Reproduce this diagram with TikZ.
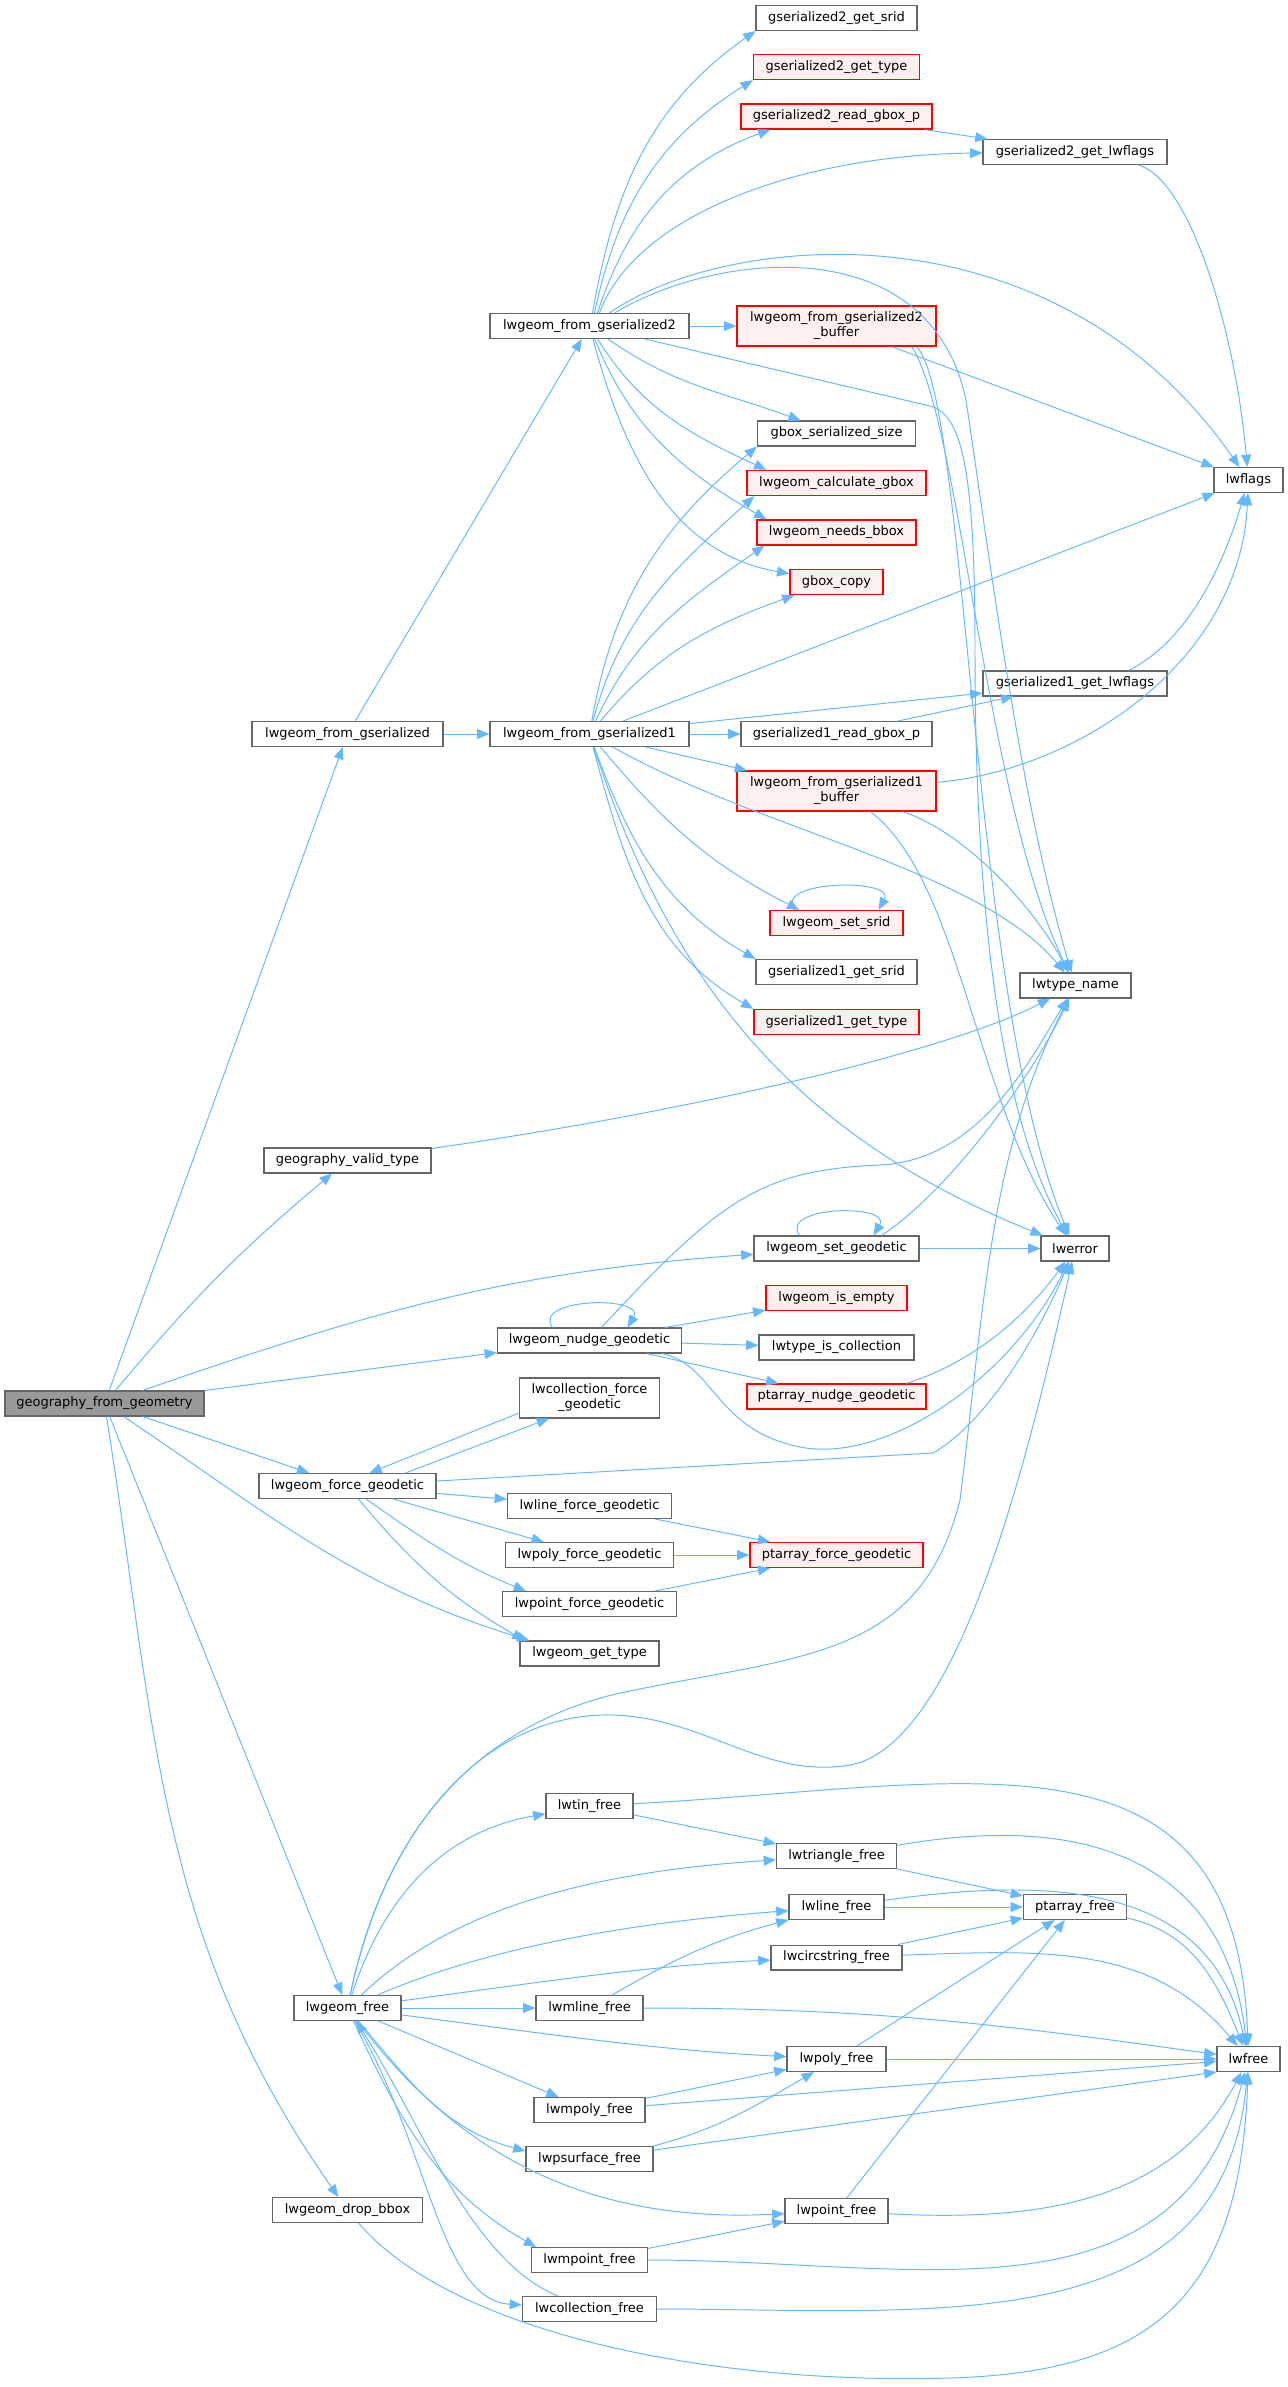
\documentclass[tikz,border=0pt]{standalone}
\usepackage{fontspec}
\newfontfamily\graphfont{DejaVu Sans}
\usetikzlibrary{arrows.meta,calc}
\definecolor{callBlue}{HTML}{63B8FF}
\definecolor{boxGray}{HTML}{666666}
\definecolor{rootGray}{HTML}{999999}
\definecolor{missRed}{HTML}{FF0000}
\definecolor{missFill}{HTML}{FFF0F0}

\begin{document}
\begin{tikzpicture}[x=0.02cm, y=-0.02cm,
      font=\graphfont\fontsize{7.4}{8.5}\selectfont,
      fn/.style={draw=boxGray, fill=white, line width=0.6pt, minimum height=0.5cm, inner sep=0pt},
      fnred/.style={fn, draw=missRed, fill=missFill, line width=0.75pt},
      fnroot/.style={fn, fill=rootGray},
      twoline/.style={minimum height=0.8cm, align=center},
      wd/.style={minimum width=#1*0.02cm},
      call/.style={draw=callBlue, line width=0.55pt, -{Triangle[length=7pt, width=5.6pt]}}]
    \path[use as bounding box, fill=white] (0,0) rectangle (1288,2387);
    % ---- caller and first level
    \node[fnroot, wd=199] (ggeo) at (104.5,1403.5) {geography\_from\_geometry};
    \node[fn, wd=191] (lfg) at (347.5,734) {lwgeom\_from\_gserialized};
    \node[fn, wd=167] (gvt) at (347.5,1160.5) {geography\_valid\_type};
    \node[fn, wd=177] (lfgeod) at (347.5,1486) {lwgeom\_force\_geodetic};
    \node[fn, wd=107] (lfree) at (347.5,2008) {lwgeom\_free};
    \node[fn, wd=150] (ldrop) at (347.5,2210) {lwgeom\_drop\_bbox};
    % ---- second level
    \node[fn, wd=199] (lfg2) at (589.5,326) {lwgeom\_from\_gserialized2};
    \node[fn, wd=199] (lfg1) at (589.5,734) {lwgeom\_from\_gserialized1};
    \node[fn, wd=184] (nudge) at (589.5,1340.5) {lwgeom\_nudge\_geodetic};
    \node[fn, twoline, wd=140] (collfg) at (589.5,1398) {lwcollection\_force\\\_geodetic};
    \node[fn, wd=164] (linefg) at (589.5,1506) {lwline\_force\_geodetic};
    \node[fn, wd=168] (polyfg) at (589.5,1555) {lwpoly\_force\_geodetic};
    \node[fn, wd=174] (pointfg) at (589.5,1604) {lwpoint\_force\_geodetic};
    \node[fn, wd=139] (gettype) at (589.5,1653.5) {lwgeom\_get\_type};
    \node[fn, wd=87] (tinfree) at (589.5,1806) {lwtin\_free};
    \node[fn, wd=107] (mlinefree) at (589.5,2008) {lwmline\_free};
    \node[fn, wd=111] (mpolyfree) at (589.5,2110) {lwmpoly\_free};
    \node[fn, wd=127] (psurffree) at (589.5,2159) {lwpsurface\_free};
    \node[fn, wd=116] (mpointfree) at (589.5,2260) {lwmpoint\_free};
    \node[fn, wd=134] (collfree) at (589.5,2309) {lwcollection\_free};
    % ---- third level
    \node[fn, wd=161] (g2srid) at (836.5,18) {gserialized2\_get\_srid};
    \node[fnred, wd=166] (g2type) at (836.5,67) {gserialized2\_get\_type};
    \node[fnred, wd=191] (g2rgbox) at (836.5,116.5) {gserialized2\_read\_gbox\_p};
    \node[fnred, twoline, wd=199] (lfg2buf) at (836.5,326) {lwgeom\_from\_gserialized2\\\_buffer};
    \node[fn, wd=158] (gbsize) at (836.5,433.5) {gbox\_serialized\_size};
    \node[fnred, wd=179] (calcgbox) at (836.5,483) {lwgeom\_calculate\_gbox};
    \node[fnred, wd=159] (needsbbox) at (836.5,532.5) {lwgeom\_needs\_bbox};
    \node[fnred, wd=93] (gboxcopy) at (836.5,582) {gbox\_copy};
    \node[fn, wd=191] (g1rgbox) at (836.5,734) {gserialized1\_read\_gbox\_p};
    \node[fnred, twoline, wd=199] (lfg1buf) at (836.5,791) {lwgeom\_from\_gserialized1\\\_buffer};
    \node[fnred, wd=133] (setsrid) at (836.5,923) {lwgeom\_set\_srid};
    \node[fn, wd=161] (g1srid) at (836.5,972) {gserialized1\_get\_srid};
    \node[fnred, wd=165] (g1type) at (836.5,1022) {gserialized1\_get\_type};
    \node[fn, wd=165] (setgeod) at (836.5,1248.5) {lwgeom\_set\_geodetic};
    \node[fnred, wd=141] (isempty) at (836.5,1298) {lwgeom\_is\_empty};
    \node[fn, wd=155] (iscoll) at (836.5,1347.5) {lwtype\_is\_collection};
    \node[fnred, wd=179] (ptnudge) at (836.5,1396.5) {ptarray\_nudge\_geodetic};
    \node[fnred, wd=173] (ptforce) at (836.5,1555) {ptarray\_force\_geodetic};
    \node[fn, wd=120] (trifree) at (836.5,1856) {lwtriangle\_free};
    \node[fn, wd=95] (linefree) at (836.5,1907) {lwline\_free};
    \node[fn, wd=131] (circfree) at (836.5,1957.5) {lwcircstring\_free};
    \node[fn, wd=99] (polyfree) at (836.5,2059) {lwpoly\_free};
    \node[fn, wd=103] (pointfree) at (836.5,2211) {lwpoint\_free};
    % ---- leaves
    \node[fn, wd=184] (g2flags) at (1075,152) {gserialized2\_get\_lwflags};
    \node[fn, wd=184] (g1flags) at (1075,683.5) {gserialized1\_get\_lwflags};
    \node[fn, wd=111] (typename) at (1075.5,985.5) {lwtype\_name};
    \node[fn, wd=68] (lwerror) at (1075,1248.5) {lwerror};
    \node[fn, wd=103] (ptfree) at (1075,1907) {ptarray\_free};
    \node[fn, wd=69] (lwflags) at (1248.5,480) {lwflags};
    \node[fn, wd=63] (lwfree) at (1248.5,2059) {lwfree};

    % ---- straight calls
    \foreach \a/\b in {ggeo/lfg, ggeo/nudge, ggeo/lfgeod, ggeo/lfree, lfg/lfg2, lfg/lfg1,
        lfg2/lfg2buf, lfg2buf/lwflags, lfg1/lwflags, lfg1/g1flags, lfg1/g1rgbox, lfg1/lfg1buf,
        g2rgbox/g2flags, g1rgbox/g1flags, setgeod/lwerror, nudge/iscoll, nudge/ptnudge,
        lfgeod/linefg, lfgeod/polyfg, linefg/ptforce, polyfg/ptforce, pointfg/ptforce,
        lfree/mlinefree, lfree/mpolyfree, tinfree/trifree, trifree/ptfree, linefree/ptfree,
        circfree/ptfree, polyfree/ptfree, pointfree/ptfree, polyfree/lwfree, mpolyfree/lwfree,
        mpolyfree/polyfree, mpointfree/pointfree}
      \draw[call] (\a) -- (\b);

    % ---- geography_from_geometry
    \draw[call] (ggeo) to[out=50,in=-140] (gvt);
    \draw[call] (ggeo) to[out=19,in=184] (setgeod);
    \draw[call] (ggeo) to[out=-34,in=163] ($(gettype.north west)+(10,0)$);
    \draw[call] (ggeo) to[out=-81,in=125] (ldrop);
    \draw[call] (gvt) .. controls (700,1110) and (950,1050) .. (typename);

    % ---- lwgeom_from_gserialized2
    \draw[call] ($(lfg2.north)+(3,0)$) to[out=80,in=215] (g2srid.south west);
    \draw[call] ($(lfg2.north)+(5,0)$) to[out=78,in=212] (g2type.south west);
    \draw[call] ($(lfg2.north)+(8,0)$) to[out=72,in=200] ($(g2rgbox.south west)+(30,0)$);
    \draw[call] ($(lfg2.north)+(10,0)$) .. controls (635,215) and (800,155) .. (g2flags);
    \draw[call] ($(lfg2.north)+(20,0)$) .. controls (720,235) and (1050,195) .. (lwflags);
    \draw[call] ($(lfg2.north)+(25,0)$) .. controls (720,250) and (930,230) .. (966,400)
      .. controls (990,560) and (1020,800) .. (typename);
    \draw[call] (lfg2) -- (930,406) .. controls (962,414) and (975,470) .. (975,650)
      .. controls (975,1000) and (1020,1150) .. (lwerror);
    \draw[call] (lfg2) to[out=-35,in=160] (gbsize);
    \draw[call] (lfg2) to[out=-58,in=155] ($(calcgbox.north west)+(20,0)$);
    \draw[call] (lfg2) to[out=-68,in=150] ($(needsbbox.north west)+(10,0)$);
    \draw[call] (lfg2) to[out=-75,in=170] (gboxcopy);
    \draw[call] ($(lfg2buf.south east)+(-25,0)$) .. controls (960,420) and (985,800) .. (typename);
    \draw[call] ($(lfg2buf.south east)+(-20,0)$) .. controls (968,400) and (970,1000) .. (lwerror);
    \draw[call] ($(g2flags.south east)+(-29,0)$) .. controls (1190,180) and (1235,330) .. (lwflags);

    % ---- lwgeom_from_gserialized1
    \draw[call] (lfg1) to[out=80,in=-140] (gbsize.south west);
    \draw[call] (lfg1) to[out=75,in=-138] ($(calcgbox.south west)+(8,0)$);
    \draw[call] (lfg1) to[out=65,in=-145] ($(needsbbox.south west)+(8,0)$);
    \draw[call] (lfg1) to[out=50,in=-160] ($(gboxcopy.south west)+(5,0)$);
    \draw[call] (lfg1) .. controls (760,830) and (980,870) .. (typename);
    \draw[call] (lfg1) to[out=-50,in=153] ($(setsrid.north west)+(30,0)$);
    \draw[call] (lfg1) to[out=-70,in=150] (g1srid.north west);
    \draw[call] (lfg1) to[out=-75,in=150] (g1type.north west);
    \draw[call] (lfg1) to[out=-72,in=158] (lwerror);
    \draw[call] (lfg1buf) .. controls (1080,770) and (1240,660) .. (lwflags);
    \draw[call] ($(lfg1buf.south east)+(-34,0)$) .. controls (960,830) and (1030,900) .. (typename);
    \draw[call] ($(lfg1buf.south)+(34,0)$) .. controls (960,880) and (975,1100) .. (lwerror);
    \draw[call] ($(g1flags.north east)+(-39,0)$) .. controls (1190,640) and (1225,560) .. (lwflags);
    \draw[call] ($(setsrid.north)+(-42,0)$) .. controls ($(setsrid.north)+(-64,-30)$)
      and ($(setsrid.north)+(60,-32)$) .. ($(setsrid.north)+(42,0)$);

    % ---- geodetic flags
    \draw[call] ($(setgeod.north)+(-37,0)$) .. controls ($(setgeod.north)+(-58,-30)$)
      and ($(setgeod.north)+(56,-32)$) .. ($(setgeod.north)+(37,0)$);
    \draw[call] ($(setgeod.north)+(45,0)$) .. controls (950,1190) and (1030,1080) .. (typename);
    \draw[call] ($(nudge.north)+(-37,0)$) .. controls ($(nudge.north)+(-58,-30)$)
      and ($(nudge.north)+(57,-32)$) .. ($(nudge.north)+(38,0)$);
    \draw[call] ($(nudge.north)+(12,0)$) .. controls (720,1200) and (760,1170) .. (880,1165)
      .. controls (980,1160) and (1030,1060) .. (typename);
    \draw[call] ($(nudge.north east)+(-17,0)$) -- (isempty);
    \draw[call] ($(nudge.south east)+(-20,0)$) .. controls (715,1365) and (715,1430) .. (800,1447)
      .. controls (885,1464) and (1010,1380) .. (lwerror);
    \draw[call] ($(ptnudge.north east)+(-20,0)$) .. controls (980,1360) and (1030,1310) .. (lwerror);
    \draw[call] ($(lfgeod.north)+(58,0)$) -- ($(collfg.south west)+(30,0)$);
    \draw[call] ($(collfg.west)+(0,15)$) -- ($(lfgeod.north)+(22,0)$);
    \draw[call] (lfgeod) -- (933,1453) .. controls (990,1420) and (1040,1330) .. (lwerror);
    \draw[call] (lfgeod) to[out=-35,in=158] ($(pointfg.north west)+(24,0)$);
    \draw[call] (lfgeod) to[out=-50,in=150] ($(gettype.north west)+(5,0)$);

    % ---- lwgeom_free
    \draw[call] (lfree) .. controls (380,1850) and (460,1730) .. (620,1693)
      .. controls (800,1655) and (920,1660) .. (960,1500)
      .. controls (985,1300) and (990,1150) .. (typename);
    \draw[call] (lfree) .. controls (385,1830) and (480,1720) .. (600,1715)
      .. controls (700,1712) and (760,1780) .. (850,1765)
      .. controls (960,1745) and (1030,1450) .. (lwerror);
    \draw[call] (lfree) to[out=72,in=190] (tinfree);
    \draw[call] (lfree) .. controls (430,1930) and (540,1875) .. (trifree);
    \draw[call] (lfree) .. controls (470,1955) and (600,1925) .. (linefree);
    \draw[call] (lfree) .. controls (520,1985) and (650,1965) .. (circfree);
    \draw[call] (lfree) .. controls (520,2030) and (650,2050) .. (polyfree);
    \draw[call] (lfree) to[out=-50,in=165] ($(psurffree.west)+(0,-8)$);
    \draw[call] (lfree) .. controls (440,2130) and (560,2225) .. (pointfree);
    \draw[call] (lfree) to[out=-65,in=150] ($(mpointfree.north west)+(5,0)$);
    \draw[call] (lfree) .. controls (430,2150) and (440,2300) .. (collfree);
    \draw[call] (collfree) .. controls (470,2260) and (420,2120) .. (lfree);
    \draw[call] (mlinefree) to[out=30,in=195] (linefree);
    \draw[call] (psurffree.north east) to[out=15,in=-150] (polyfree);

    % ---- lwfree
    \draw[call] (tinfree) to[out=3,in=92,looseness=1.3] (lwfree);
    \draw[call] (trifree) to[out=10,in=97,looseness=1.2] (lwfree);
    \draw[call] (linefree) to[out=8,in=102,looseness=1.1] (lwfree);
    \draw[call] (circfree) to[out=2,in=130] (lwfree);
    \draw[call] (ptfree) to[out=-12,in=112] (lwfree);
    \draw[call] (mlinefree) to[out=0,in=172] (lwfree);
    \draw[call] (psurffree) -- (lwfree.south west);
    \draw[call] (pointfree) to[out=-3,in=-118] (lwfree);
    \draw[call] (mpointfree) to[out=0,in=-105,looseness=1.1] (lwfree);
    \draw[call] (collfree) to[out=0,in=-95,looseness=1.1] (lwfree);
    \draw[call] (ldrop) .. controls (450,2330) and (700,2385) .. (950,2378)
      .. controls (1150,2372) and (1240,2300) .. (lwfree);
  \end{tikzpicture}
\end{document}
